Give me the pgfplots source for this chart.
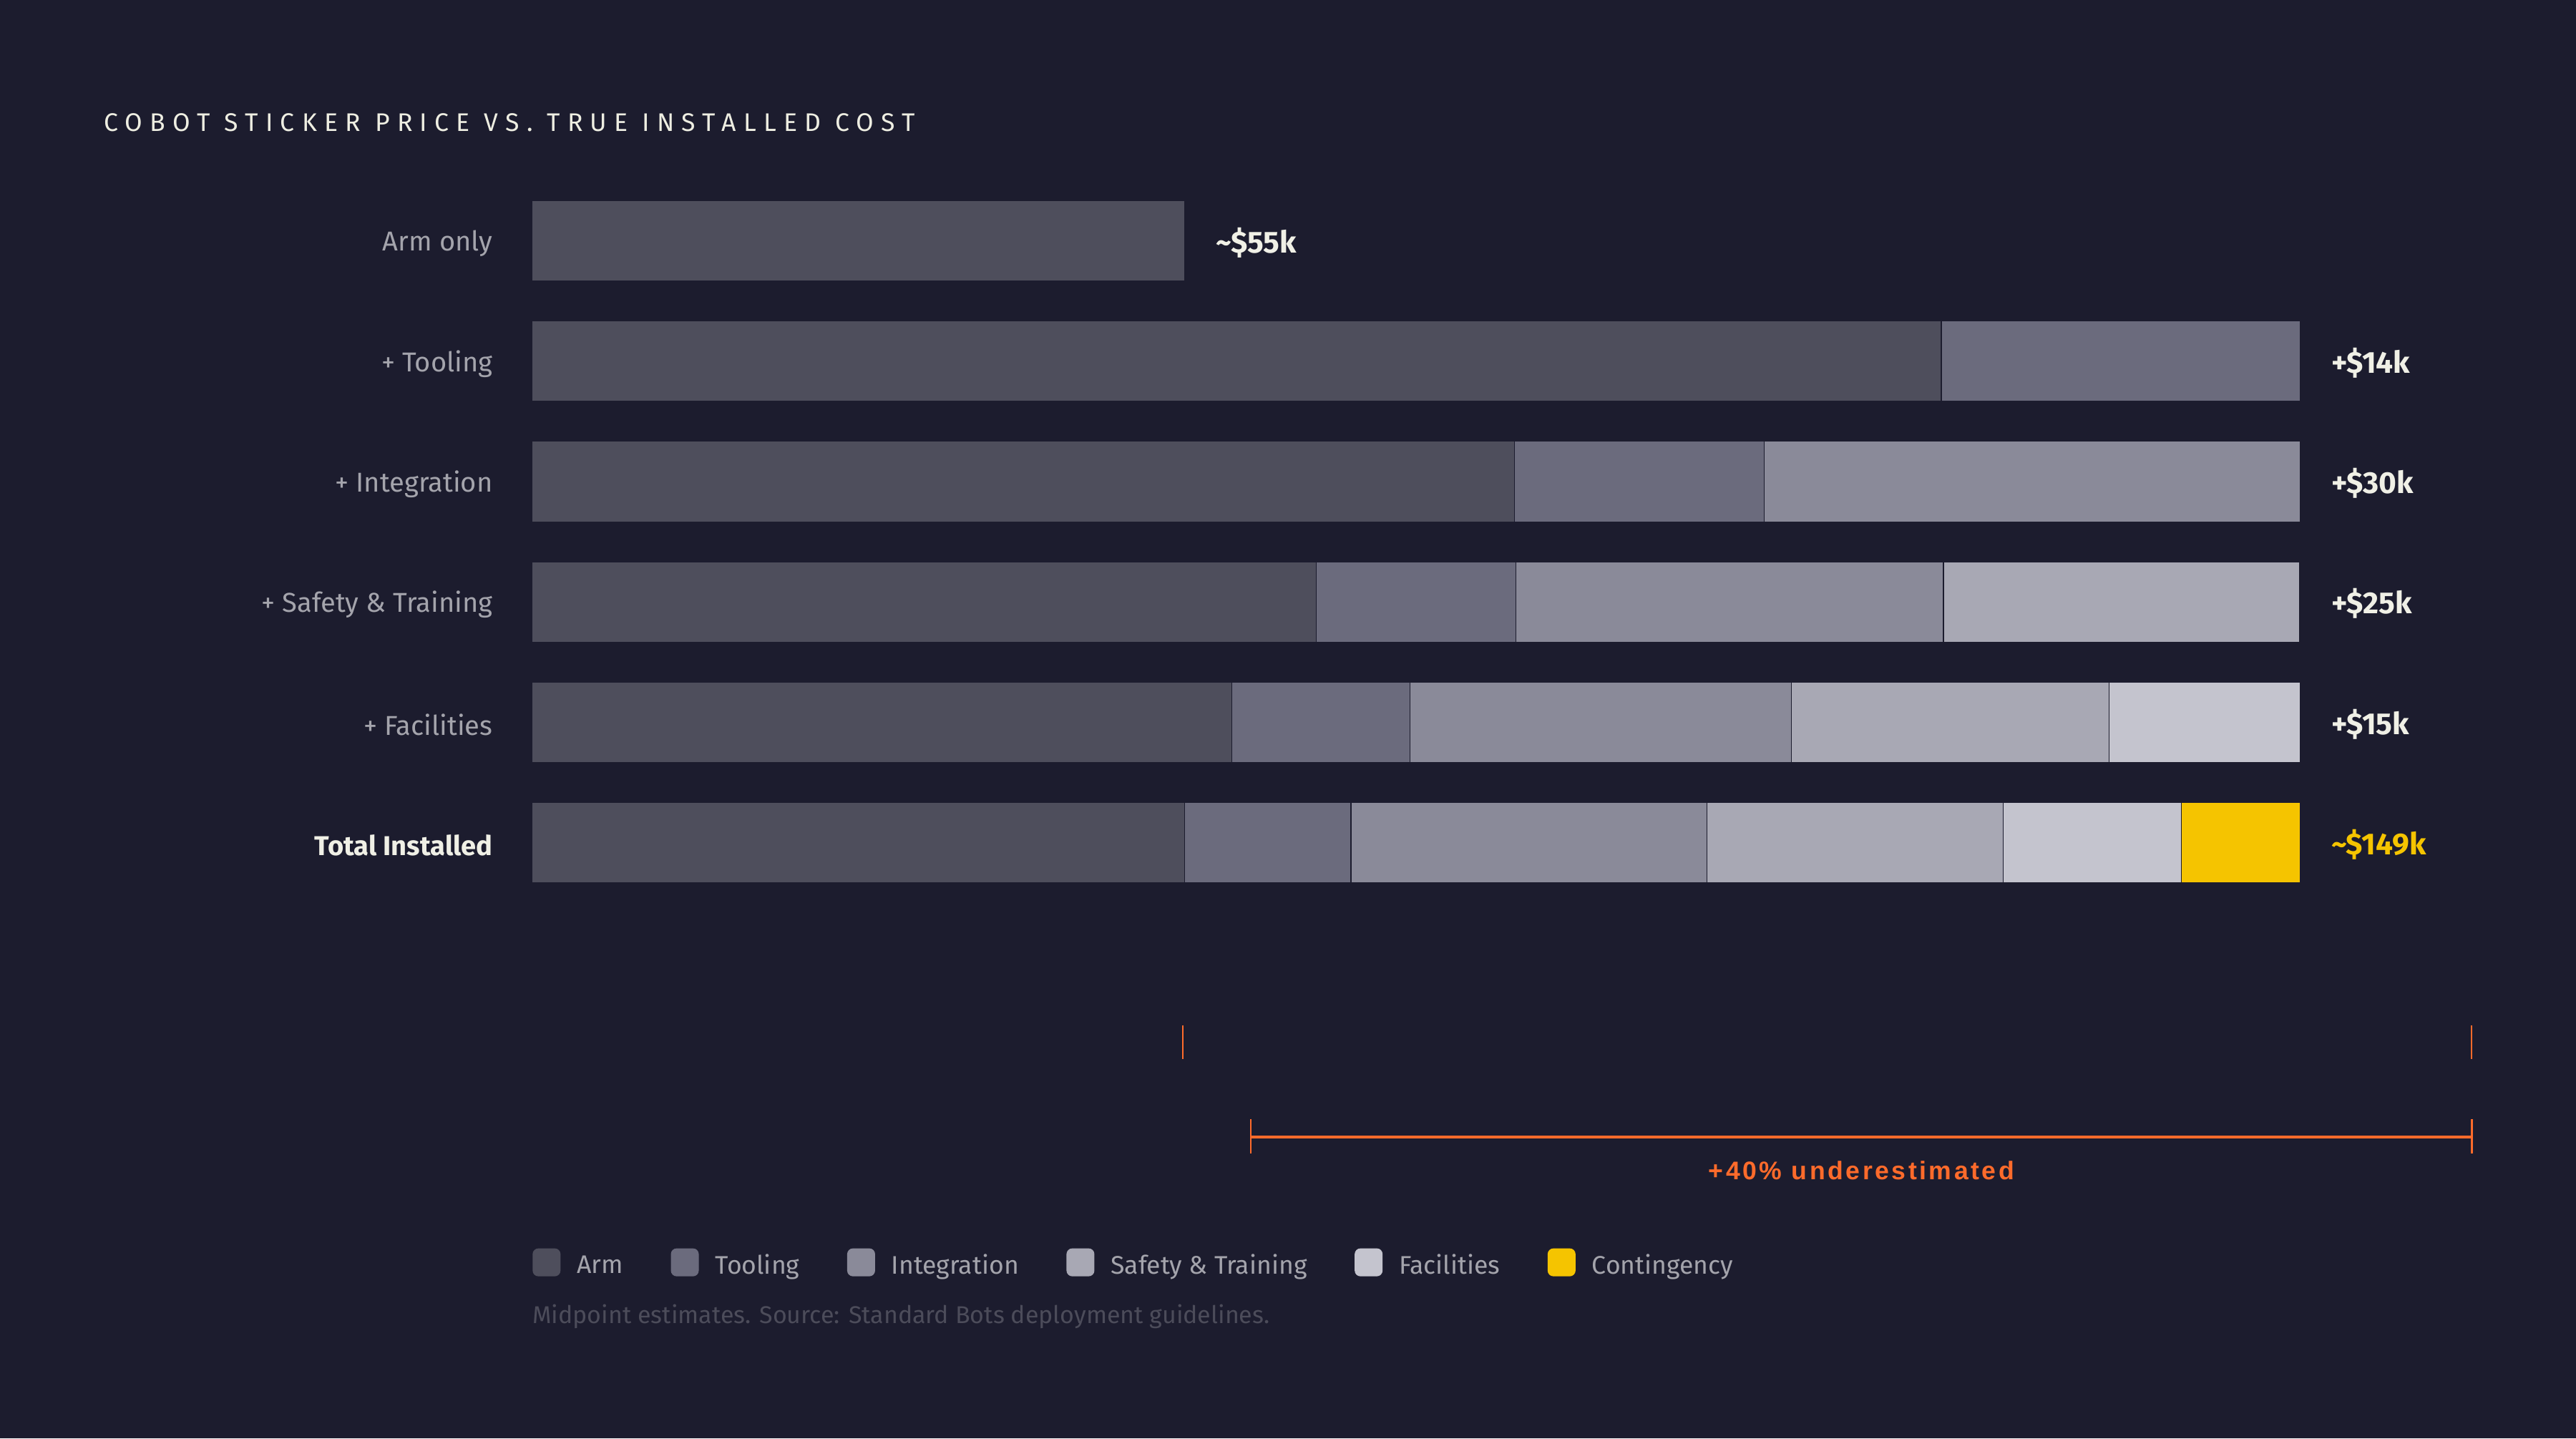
\documentclass[border=0pt]{standalone}
\usepackage{pgfplots}
\pgfplotsset{compat=1.18}
\usepackage{fontspec}
\setmainfont{Fira Sans}
\newfontfamily\titlefont[LetterSpace=29]{Fira Sans}
\newfontfamily\annfont[LetterSpace=10]{Liberation Sans}
\definecolor{bg}{HTML}{1C1C2E}
\definecolor{armc}{HTML}{4E4E5C}
\definecolor{toolc}{HTML}{6B6B7D}
\definecolor{integc}{HTML}{8A8A99}
\definecolor{safec}{HTML}{A8A8B4}
\definecolor{facc}{HTML}{C4C4CE}
\definecolor{contc}{HTML}{F5C400}
\definecolor{orangec}{HTML}{FF6B2B}
\definecolor{titlec}{HTML}{EEEEE2}
\definecolor{labelc}{HTML}{A4A4AC}
\definecolor{valc}{HTML}{F0F0E6}
\definecolor{notec}{HTML}{4C4C5A}
\tikzset{valnode/.style={anchor=west, inner sep=0pt, xshift=19pt, yshift=-1pt, font=\bfseries\fontsize{18.5}{21}\selectfont, text=valc}}
\begin{document}
\begin{tikzpicture}[x=1pt,y=1pt]
\fill[bg] (0,0) rectangle (1568,875.5);
\node[anchor=base west, inner sep=0pt, text=titlec, font=\titlefont\fontsize{15.5}{18}\selectfont] at (63,795.5) {COBOT STICKER PRICE VS. TRUE INSTALLED COST};
\begin{axis}[
  at={(324pt,325.86pt)}, anchor=south west,
  scale only axis, width=1076pt, height=439.7pt,
  xmin=0, xmax=100, ymin=-0.5, ymax=5.5, y dir=reverse,
  xbar stacked, bar width=49pt,
  axis line style={draw=none},
  xtick=\empty, ytick={0,1,2,3,4,5},
  yticklabels={Arm only, + Tooling, + Integration, + Safety \& Training, + Facilities, {\bfseries\color{valc}Total Installed}},
  major tick length=0pt,
  yticklabel style={anchor=east, inner sep=0pt, xshift=-24pt, yshift=-1.5pt, text=labelc, font=\fontsize{16.6}{20}\selectfont},
  clip=false,
  legend columns=6,
  legend image code/.code={\fill[#1, draw=none, rounded corners=3.5pt] (0pt,-6.5pt) rectangle (17pt,10.5pt);},
  legend style={at={(axis description cs:0,-0.4978)}, anchor=west, draw=none, fill=none, inner sep=0pt,
    nodes={inner sep=0pt, text=labelc, font=\fontsize{15.5}{19}\selectfont},
    /tikz/every odd column/.append style={column sep=10pt},
    /tikz/every even column/.append style={column sep=29pt}},
]
\addplot[fill=armc, draw=bg, line width=0.5pt] coordinates {(36.91,0) (79.71,1) (55.56,2) (44.35,3) (39.57,4) (36.91,5)};
\addplot[fill=toolc, draw=bg, line width=0.5pt] coordinates {(0,0) (20.29,1) (14.14,2) (11.29,3) (10.07,4) (9.40,5)};
\addplot[fill=integc, draw=bg, line width=0.5pt] coordinates {(0,0) (0,1) (30.30,2) (24.19,3) (21.58,4) (20.13,5)};
\addplot[fill=safec, draw=bg, line width=0.5pt] coordinates {(0,0) (0,1) (0,2) (20.16,3) (17.99,4) (16.78,5)};
\addplot[fill=facc, draw=bg, line width=0.5pt] coordinates {(0,0) (0,1) (0,2) (0,3) (10.79,4) (10.07,5)};
\addplot[fill=contc, draw=bg, line width=0.5pt] coordinates {(0,0) (0,1) (0,2) (0,3) (0,4) (6.71,5)};
\legend{Arm, Tooling, Integration, Safety \& Training, Facilities, Contingency}
\node[valnode] at (axis cs:36.91,0) {\char"007E\$55k};
\node[valnode] at (axis cs:100,1) {+\$14k};
\node[valnode] at (axis cs:100,2) {+\$30k};
\node[valnode] at (axis cs:100,3) {+\$25k};
\node[valnode] at (axis cs:100,4) {+\$15k};
\node[valnode, text=contc] at (axis cs:100,5) {\char"007E\$149k};
\draw[orangec, line width=1pt] (axis cs:36.80,6.516) -- (axis cs:36.80,6.798);
\draw[orangec, line width=1pt] (axis cs:109.71,6.516) -- (axis cs:109.71,6.798);
\draw[orangec, line width=2pt] (axis cs:40.65,7.445) -- (axis cs:109.71,7.445);
\draw[orangec, line width=1.2pt] (axis cs:40.65,7.295) -- (axis cs:40.65,7.582);
\draw[orangec, line width=1.2pt] (axis cs:109.71,7.295) -- (axis cs:109.71,7.582);
\node[text=orangec, font=\annfont\bfseries\fontsize{15.5}{18}\selectfont, inner sep=0pt] at (axis cs:75.19,7.72) {+40\% underestimated};
\end{axis}
\node[anchor=base west, inner sep=0pt, text=notec, font=\fontsize{14.8}{17}\selectfont] at (324,70) {Midpoint estimates. Source: Standard Bots deployment guidelines.};
\end{tikzpicture}
\end{document}
